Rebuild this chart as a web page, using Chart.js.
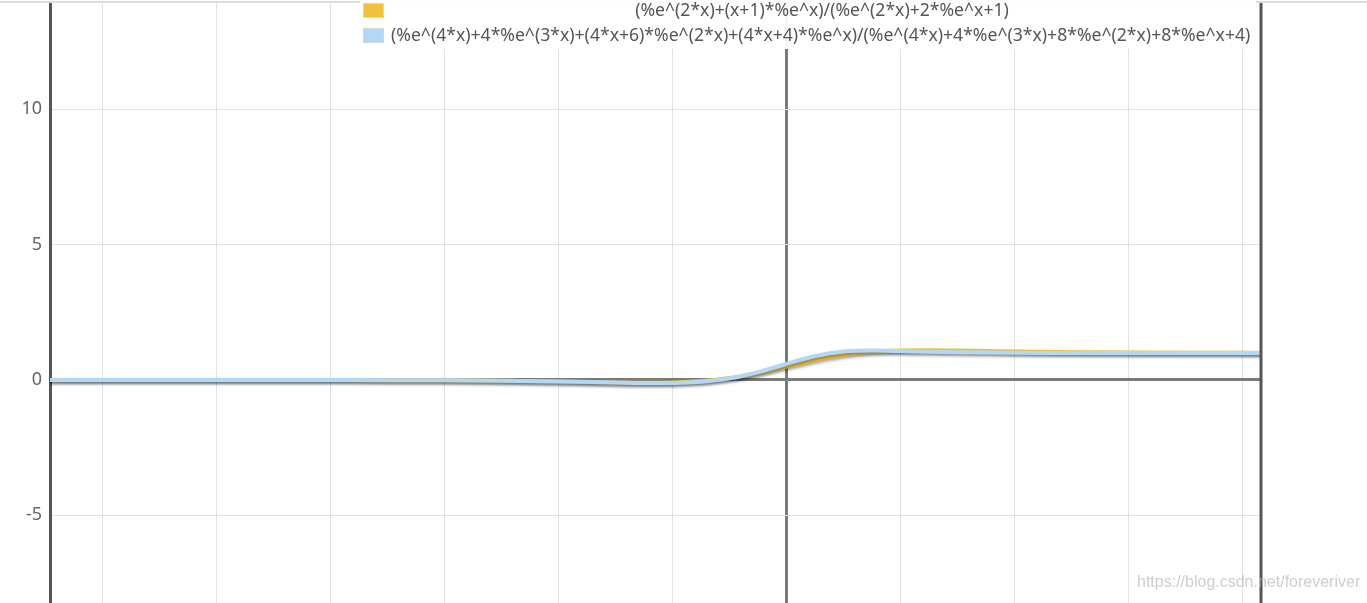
<!DOCTYPE html>
<html>
<head>
<meta charset="utf-8">
<script src="https://cdn.jsdelivr.net/npm/chart.js@4/dist/chart.umd.min.js"></script>
<style>
    body { margin:0; background:#fff; overflow:hidden; }
    #wrap { position:relative; width:1367px; height:603px; }
    #topLine { position:absolute; left:0; top:1px; width:1367px; height:2px; background:#dcdcdc; }
    #legend {
        position:absolute; left:360px; top:0; width:896px; height:49px;
        background:rgba(255,255,255,0.92);
        font-family:"Noto Sans", "Open Sans", sans-serif; font-size:17.6px; color:#555;
    }
    .box { position:absolute; left:3px; width:19px; height:13px; border:1px solid #d6d6d6; }
    .lbl { position:absolute; left:31px; width:862px; white-space:nowrap; line-height:20px; }
    #mark {
        position:absolute; left:1137px; top:573px;
        font-family:"Liberation Sans", Arial, sans-serif; font-size:16px; color:rgba(190,190,190,0.75);
    }
</style>
</head>
<body>
<div id="wrap">
    <canvas id="chart" width="1367" height="603"></canvas>
    <div id="topLine"></div>
    <div id="legend"></div>
    <div id="mark">https://blog.csdn.net/foreveriver</div>
</div>
<script>
// ---------------- data ----------------
const labels = [
    "(%e^(2*x)+(x+1)*%e^x)/(%e^(2*x)+2*%e^x+1)",
    "(%e^(4*x)+4*%e^(3*x)+(4*x+6)*%e^(2*x)+(4*x+4)*%e^x)/(%e^(4*x)+4*%e^(3*x)+8*%e^(2*x)+8*%e^x+4)"
];
const colors = ["#efc13d", "#b1d8f7"];

const xValues = [-13,-12,-11,-10,-9,-8,-7,-6,-5,-4,-3,-2.5,-2,-1.5,-1,-0.5,0,0.5,1,1.5,2,2.5,3,4,5,6,7,8,8.5];
const yellowValues = [0,-0.0001,-0.0002,-0.0004,-0.001,-0.0023,-0.0055,-0.0124,-0.027,-0.053,-0.088,-0.099,-0.091,-0.041,0.072,0.26,0.5,0.74,0.928,1.041,1.091,1.099,1.088,1.053,1.027,1.0125,1.0055,1.0023,1.0015];
const blueValues   = [0,-0.0001,-0.0002,-0.0004,-0.001,-0.0023,-0.0055,-0.0124,-0.027,-0.054,-0.093,-0.110,-0.108,-0.064,0.059,0.29,0.6,0.886,1.049,1.089,1.069,1.041,1.021,1.0044,1.0008,1.0001,1.0,1.0,1.0];

const xTicks = [-12,-10,-8,-6,-4,-2,0,2,4,6,8];
const yTicks = [-5,0,5,10];
const xMin = -12.93, xMax = 8.32;
const yMin = -8.24, yMax = 13.93;

// ---------------- legend (html) ----------------
const legendEl = document.getElementById("legend");
labels.forEach((text, i) =>
{
    const top = 3 + i * 25;
    const box = document.createElement("div");
    box.className = "box";
    box.style.top = top + "px";
    box.style.background = colors[i];
    legendEl.appendChild(box);

    const lbl = document.createElement("div");
    lbl.className = "lbl";
    lbl.style.top = (top - 4) + "px";
    lbl.style.textAlign = i === 0 ? "center" : "left";
    lbl.textContent = text;
    legendEl.appendChild(lbl);
});

// ---------------- plugins ----------------
const lineShadow = {
    id: "lineShadow",
    beforeDatasetDraw(chart)
    {
        const ctx = chart.ctx;
        ctx.save();
        ctx.shadowColor = "rgba(0,0,0,0.35)";
        ctx.shadowBlur = 3;
        ctx.shadowOffsetY = 2;
    },
    afterDatasetDraw(chart)
    {
        chart.ctx.restore();
    }
};

const rightBorder = {
    id: "rightBorder",
    afterDatasetsDraw(chart)
    {
        const { ctx, chartArea } = chart;
        ctx.save();
        ctx.strokeStyle = "#555";
        ctx.lineWidth = 3;
        ctx.beginPath();
        ctx.moveTo(chartArea.right, 3);
        ctx.lineTo(chartArea.right, chart.height);
        ctx.stroke();
        ctx.restore();
    }
};

function toPoints(ys)
{
    return xValues.map((x, i) => ({ x: x, y: ys[i] }));
}

const gridColor = (ctx) => ctx.tick && ctx.tick.value === 0 ? "#7a7a7a" : "#e2e2e2";
const gridWidth = (ctx) => ctx.tick && ctx.tick.value === 0 ? 3 : 1;

new Chart(document.getElementById("chart"),
{
    type: "line",
    data: {
        datasets: [
            { label: labels[0], data: toPoints(yellowValues), borderColor: colors[0], borderWidth: 4, order: 2 },
            { label: labels[1], data: toPoints(blueValues), borderColor: colors[1], borderWidth: 4, order: 1 }
        ]
    },
    options: {
        responsive: false,
        animation: false,
        layout: { padding: { top: 3, right: 106, bottom: 0, left: 0 } },
        elements: {
            point: { radius: 0 },
            line: { cubicInterpolationMode: "monotone", fill: false }
        },
        plugins: {
            legend: { display: false },
            tooltip: { enabled: false }
        },
        scales: {
            x: {
                type: "linear",
                min: xMin, max: xMax,
                afterBuildTicks: (s) => { s.ticks = xTicks.map(v => ({ value: v })); },
                afterFit: (s) => { s.height = 0; s.paddingLeft = 0; s.paddingRight = 0; },
                ticks: { display: false },
                border: { display: false },
                grid: { color: gridColor, lineWidth: gridWidth, drawTicks: false }
            },
            y: {
                min: yMin, max: yMax,
                afterBuildTicks: (s) => { s.ticks = yTicks.map(v => ({ value: v })); },
                afterFit: (s) => { s.width = 50; s.paddingTop = 0; s.paddingBottom = 0; },
                ticks: {
                    color: "#666", padding: 8,
                    font: { family: "'Noto Sans', 'Open Sans', sans-serif", size: 18 }
                },
                border: { display: true, color: "#555", width: 3 },
                grid: { color: gridColor, lineWidth: gridWidth, drawTicks: false }
            }
        }
    },
    plugins: [lineShadow, rightBorder]
});
</script>
</body>
</html>
